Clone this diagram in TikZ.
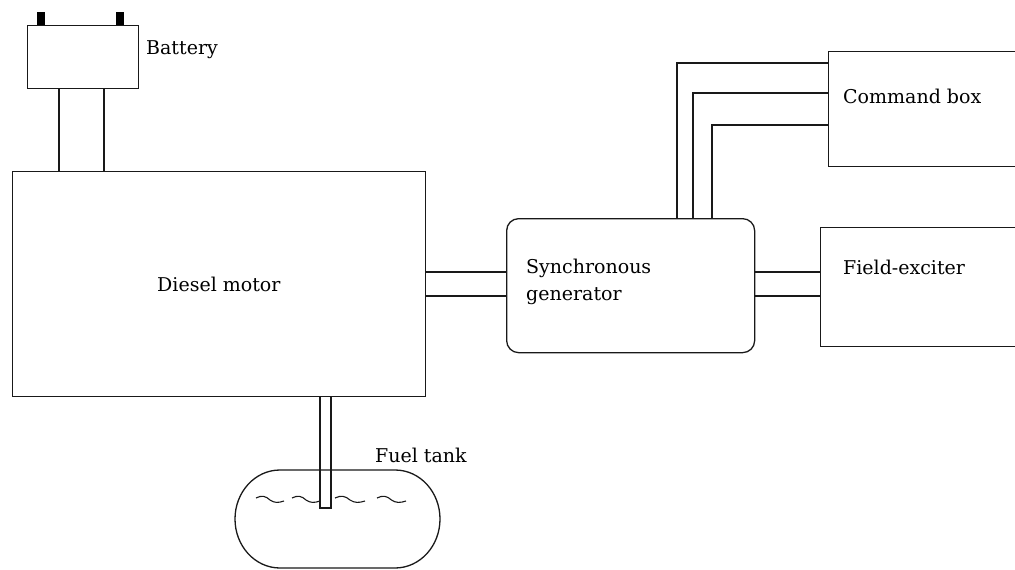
\documentclass[tikz,border=0pt]{standalone}
\usepackage{fontspec}
\setmainfont{DejaVu Serif}
\begin{document}
\begin{tikzpicture}[x=1pt,y=-1pt,
  ln/.style={line width=1.3pt, draw=black!90},
  blk/.style={ln, inner sep=0pt, anchor=north west},
  term/.style={fill=black, inner sep=0pt, minimum width=8pt, minimum height=13pt, anchor=south},
  lbl/.style={inner sep=0pt, anchor=base west, font=\fontsize{19}{27}\selectfont},
  wave/.style={line width=1.1pt, draw=black!90}]
\useasboundingbox (0,0) rectangle (1015,570);
\clip (0,0) rectangle (1015,570);
% blocks
\node[blk, minimum width=111pt, minimum height=63pt] (battery) at (27,25) {};
\node[term] (tl) at (41,25) {};
\node[term] (tr) at (120,25) {};
\node[blk, minimum width=413pt, minimum height=225pt] (diesel) at (12,171) {};
\node[blk, rounded corners=12pt, minimum width=248pt, minimum height=134pt] (gen) at (506,218) {};
\node[blk, minimum width=220pt, minimum height=119pt] (field) at (820,227) {};
\node[blk, minimum width=220pt, minimum height=115pt] (cmd) at (828,51) {};
% labels
\node[lbl] (tbat) at (146,54) {Battery};
\node[lbl] (tdie) at (157,291) {Diesel motor};
\node[lbl] (tgen1) at (526,273) {Synchronous};
\node[lbl] (tgen2) at (526,300) {generator};
\node[lbl] (tfld) at (843,274) {Field-exciter};
\node[lbl] (tcmd) at (843,103) {Command box};
\node[lbl] (tfuel) at (375,462) {Fuel tank};
% battery leads
\draw[ln] (battery.south -| 59,0) -- (diesel.north -| 59,0);
\draw[ln] (battery.south -| 104,0) -- (diesel.north -| 104,0);
% shaft diesel - generator
\draw[ln] (diesel.east |- 0,272) -- (gen.west |- 0,272);
\draw[ln] (diesel.east |- 0,296) -- (gen.west |- 0,296);
% generator - field exciter
\draw[ln] (gen.east |- 0,272) -- (field.west |- 0,272);
\draw[ln] (gen.east |- 0,296) -- (field.west |- 0,296);
% generator - command box
\draw[ln] (gen.north -| 677,0) |- (cmd.west |- 0,63);
\draw[ln] (gen.north -| 693,0) |- (cmd.west |- 0,93);
\draw[ln] (gen.north -| 712,0) |- (cmd.west |- 0,125);
% fuel tank
\draw[ln] (280,470) -- (395,470)
  .. controls (420,470) and (440,492) .. (440,519)
  .. controls (440,546) and (420,568) .. (395,568)
  -- (280,568)
  .. controls (255,568) and (235,546) .. (235,519)
  .. controls (235,492) and (255,470) .. (280,470) -- cycle;
% fuel pipe
\draw[ln] (diesel.south -| 320,0) -- (320,508) -- (331,508) -- (diesel.south -| 331,0);
% fuel surface
\foreach \xa/\len in {256/28, 292/28, 335/30, 377/29}{
  \draw[wave] (\xa,498) .. controls (\xa+0.2*\len,495) and (\xa+0.35*\len,496) .. (\xa+0.5*\len,500)
    .. controls (\xa+0.65*\len,503) and (\xa+0.8*\len,503) .. (\xa+\len,501);
}
\end{tikzpicture}
\end{document}
